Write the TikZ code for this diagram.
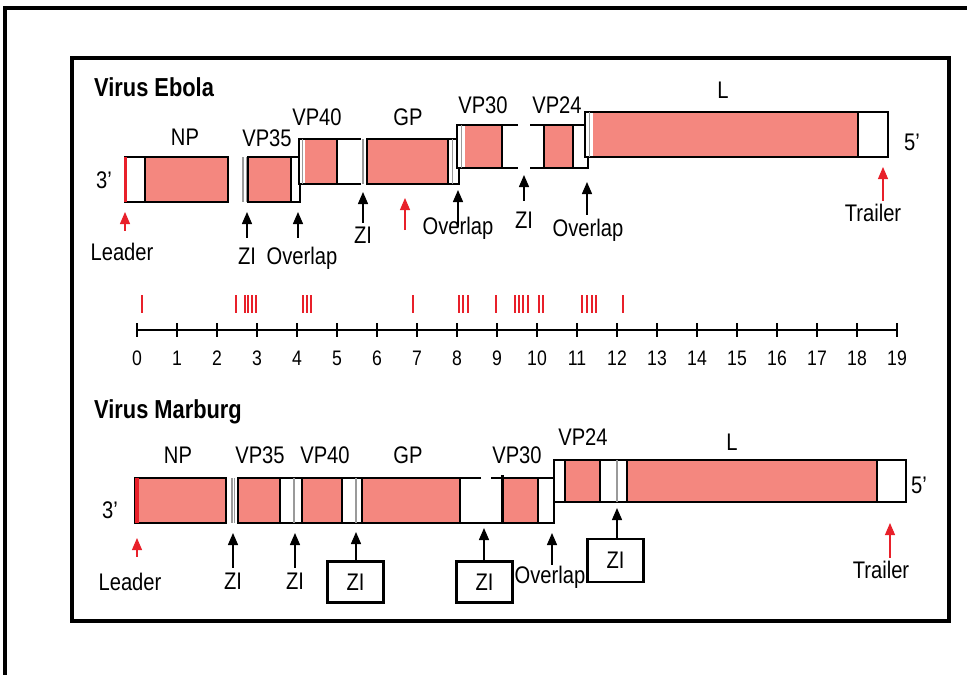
\documentclass[tikz,border=0pt]{standalone}
\usepackage{fontspec}
\setmainfont[FakeStretch=0.84]{Liberation Sans}
\usepackage{tikz}
\usetikzlibrary{arrows.meta}
\definecolor{genePink}{HTML}{F4877F}
\definecolor{mapRed}{HTML}{E8202A}
\definecolor{ziGrey}{HTML}{9A9A9A}

\begin{document}
\begin{tikzpicture}[
  x=1pt, y=-1pt,
  every node/.style={font=\fontsize{24}{26}\selectfont, inner sep=1pt},
  title/.style={font=\fontsize{26}{28}\selectfont\bfseries, anchor=west},
  digit/.style={font=\fontsize{21}{23}\selectfont},
  gene/.style={fill=genePink},
  outline/.style={draw=black, line width=2.4pt},
  sep/.style={draw=black, line width=2.4pt},
  ziline/.style={draw=ziGrey, line width=1.2pt},
  leader/.style={draw=mapRed, line width=4pt},
  arr/.style={-{Triangle[length=12pt,width=10pt]}, line width=1.4pt},
  redarr/.style={arr, draw=mapRed, line width=1.1pt},
  zibox/.style={draw, line width=2.2pt, minimum width=56pt, minimum height=41pt, inner sep=0pt},
  sitemark/.style={draw=mapRed, line width=1.4pt}
]
  \useasboundingbox (0,0) rectangle (967,675);
  \draw[line width=3.5pt] (5,675) -- (5,8) -- (967,8);
  \draw[line width=3.5pt] (72,58) rectangle (949,621);

  \node[title] (ebola) at (93,87) {Virus Ebola};

  \fill[gene] (145,157) rectangle (228,202);
  \draw[outline] (125,157) rectangle (228,202);
  \draw[sep] (145,157) -- (145,202);
  \draw[leader, line width=3pt] (125,157) -- (125,202);
  \draw[ziline] (243,157) -- (243,202) (246.5,157) -- (246.5,202);
  \fill[gene] (248,157) rectangle (291,202);
  \draw[outline] (248,157) rectangle (300,202);
  \draw[sep] (291,157) -- (291,202);

  \fill[white] (299,139) rectangle (459,184);
  \fill[gene] (305,139) rectangle (337,184);
  \fill[gene] (367,139) rectangle (448,184);
  \draw[outline] (299,139) rectangle (459,184);
  \draw[sep] (337,139) -- (337,184) (367,139) -- (367,184) (448,139) -- (448,184);
  \draw[ziline] (302.5,139) -- (302.5,184) (452.5,139) -- (452.5,184);
  \fill[white] (360.5,136) rectangle (365.5,187);
  \draw[ziline] (363,139) -- (363,184);

  \fill[white] (457,125) rectangle (518,168);
  \fill[white] (530,125) rectangle (588,168);
  \fill[gene] (465,125) rectangle (502,168);
  \fill[gene] (544,125) rectangle (573,168);
  \draw[outline] (518,125) -- (457,125) -- (457,168) -- (518,168);
  \draw[outline] (530,125) -- (588,125) -- (588,168) -- (530,168);
  \draw[sep] (502,125) -- (502,168) (544,125) -- (544,168) (573,125) -- (573,168);
  \draw[ziline] (461.5,125) -- (461.5,168);

  \fill[white] (585,112) rectangle (888,157);
  \fill[gene] (593,112) rectangle (858,157);
  \draw[outline] (585,112) rectangle (888,157);
  \draw[sep] (858,112) -- (858,157);
  \draw[ziline] (589.5,112) -- (589.5,157);

  \node (npE) at (185,137) {NP};
  \node (vp35E) at (267,138) {VP35};
  \node (vp40E) at (317,117) {VP40};
  \node (gpE) at (408,117) {GP};
  \node (vp30E) at (483,105) {VP30};
  \node (vp24E) at (557,105) {VP24};
  \node (lE) at (723,90) {L};
  \node (endThreeE) at (104,180) {3'};
  \node (endFiveE) at (912,142) {5'};

  \coordinate (tLeadE) at (125,212);
  \coordinate (tZiOneE) at (247,212);
  \coordinate (tOvOneE) at (298,212);
  \coordinate (tZiTwoE) at (363,192);
  \coordinate (tGpE) at (405,198);
  \coordinate (bGpE) at (405,230);
  \coordinate (tOvTwoE) at (458,190);
  \coordinate (tZiThreeE) at (524,175);
  \coordinate (tOvThreeE) at (587,182);
  \coordinate (tTrailE) at (883,167);

  \node (leadE) at (122,252) {Leader};
  \node (ziOneE) at (247,256) {ZI};
  \node (ovOneE) at (302,258) {Overlap};
  \node (ziTwoE) at (363,235) {ZI};
  \node (ovTwoE) at (458,228) {Overlap};
  \node (ziThreeE) at (524,220) {ZI};
  \node (ovThreeE) at (588,230) {Overlap};
  \node (trailE) at (873,213) {Trailer};

  \draw[redarr, shorten <=11pt] (tLeadE |- leadE.north) -- (tLeadE);
  \draw[arr, shorten <=9pt] (tZiOneE |- ziOneE.north) -- (tZiOneE);
  \draw[arr, shorten <=8pt] (tOvOneE |- ovOneE.north) -- (tOvOneE);
  \draw[arr, shorten <=3pt] (tZiTwoE |- ziTwoE.north) -- (tZiTwoE);
  \draw[redarr] (bGpE) -- (tGpE);
  \draw[arr, shorten <=-11pt] (tOvTwoE |- ovTwoE.north) -- (tOvTwoE);
  \draw[arr, shorten <=10pt] (tZiThreeE |- ziThreeE.north) -- (tZiThreeE);
  \draw[arr, shorten <=3pt] (tOvThreeE |- ovThreeE.north) -- (tOvThreeE);
  \draw[redarr, shorten <=2pt] (tTrailE |- trailE.north) -- (tTrailE);

  \foreach \m in {142,236,245,248,252,256,303,307,311,413,459,463,468,496,515,519,523,528,539,543,582,587,592,596,623}
    \draw[sitemark] (\m,295) -- (\m,313);
  \draw[sitemark, line width=2.4pt] (245,295) -- (245,313);
  \draw[line width=2.4pt] (137,330) -- (897,330);
  \foreach \i in {0,...,19} {
    \draw[line width=2pt] (137+40*\i,323) -- (137+40*\i,337);
    \node[digit] (kb\i) at (137+40*\i,358) {\i};
  }

  \node[title] (marburg) at (93,412) {Virus Marburg};

  \fill[gene] (138,478) rectangle (226,523);
  \draw[outline] (135,478) rectangle (226,523);
  \draw[leader] (137,478) -- (137,523);
  \draw[ziline] (232,478) -- (232,523) (234.5,478) -- (234.5,523);

  \fill[gene] (238,478) rectangle (280,523);
  \fill[gene] (302,478) rectangle (342,523);
  \fill[gene] (362,478) rectangle (460,523);
  \fill[gene] (502,478) rectangle (538,523);
  \draw[outline] (481,478) -- (238,478) -- (238,523) -- (554,523) -- (554,478) -- (491,478);
  \draw[sep] (280,478) -- (280,523) (302,478) -- (302,523) (342,478) -- (342,523)
    (362,478) -- (362,523) (460,478) -- (460,523) (538,478) -- (538,523);
  \draw[sep, line width=3pt] (502,475) -- (502,523);
  \draw[ziline] (294,478) -- (294,523) (356,478) -- (356,523);

  \fill[white] (554,460) rectangle (906,502);
  \fill[gene] (565,460) rectangle (600,502);
  \fill[gene] (627,460) rectangle (877,502);
  \draw[outline] (554,460) rectangle (906,502);
  \draw[sep] (565,460) -- (565,502) (600,460) -- (600,502) (627,460) -- (627,502) (877,460) -- (877,502);
  \draw[ziline] (617,460) -- (617,502);

  \node (npM) at (178,455) {NP};
  \node (vp35M) at (260,455) {VP35};
  \node (vp40M) at (325,455) {VP40};
  \node (gpM) at (408,455) {GP};
  \node (vp30M) at (517,455) {VP30};
  \node (vp24M) at (583,437) {VP24};
  \node (lM) at (732,442) {L};
  \node (endThreeM) at (110,510) {3'};
  \node (endFiveM) at (919,485) {5'};

  \coordinate (tLeadM) at (137,538);
  \coordinate (tZiOneM) at (233,533);
  \coordinate (tZiTwoM) at (295,533);
  \coordinate (tZiThreeM) at (356,532);
  \coordinate (tZiFourM) at (484,528);
  \coordinate (tOvM) at (552,533);
  \coordinate (tZiFiveM) at (617,508);
  \coordinate (tTrailM) at (890,523);

  \node (leadM) at (130,582) {Leader};
  \node (ziOneM) at (233,581) {ZI};
  \node (ziTwoM) at (295,581) {ZI};
  \node[zibox] (ziThreeM) at (355.5,582) {ZI};
  \node[zibox] (ziFourM) at (484.5,582) {ZI};
  \node (ovM) at (550,577) {Overlap};
  \node[zibox, minimum height=43pt] (ziFiveM) at (615.5,560.5) {ZI};
  \node (trailM) at (881,570) {Trailer};

  \draw[redarr, shorten <=15pt] (tLeadM |- leadM.north) -- (tLeadM);
  \draw[arr, shorten <=4pt] (tZiOneM |- ziOneM.north) -- (tZiOneM);
  \draw[arr, shorten <=4pt] (tZiTwoM |- ziTwoM.north) -- (tZiTwoM);
  \draw[arr] (tZiThreeM |- ziThreeM.north) -- (tZiThreeM);
  \draw[arr] (tZiFourM |- ziFourM.north) -- (tZiFourM);
  \draw[arr] (tOvM |- ovM.north) -- (tOvM);
  \draw[arr] (tZiFiveM |- ziFiveM.north) -- (tZiFiveM);
  \draw[redarr, shorten <=2pt] (tTrailM |- trailM.north) -- (tTrailM);
\end{tikzpicture}
\end{document}
